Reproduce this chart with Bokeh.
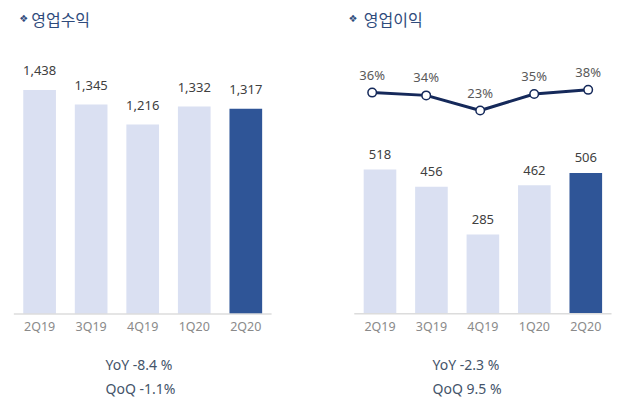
from bokeh.plotting import figure
from bokeh.models import Range1d, ColumnDataSource, Label
from bokeh.layouts import row
from bokeh.embed import file_html
from bokeh.resources import INLINE
from bokeh.core.properties import value

# ---------------- data ----------------
quarters = ["2Q19", "3Q19", "4Q19", "1Q20", "2Q20"]
revenue = [1438, 1345, 1216, 1332, 1317]
op_income = [518, 456, 285, 462, 506]
op_margin = [36, 34, 23, 35, 38]

title_left = "영업수익"
title_right = "영업이익"
rev_yoy = "YoY -8.4 %"
rev_qoq = "QoQ -1.1%"
op_yoy = "YoY  -2.3 %"
op_qoq = "QoQ   9.5 %"

# ---------------- style ----------------
FONT = "Noto Sans"
KFONT = "Noto Sans CJK KR"
LIGHT = "#dae0f2"
DARK = "#2f5597"
NAVY = "#15295a"
TITLE_C = "#2f4b7c"
NOTE_C = "#44546a"
H = 404

n = len(quarters)
idx = list(range(n))
bar_colors = [LIGHT] * (n - 1) + [DARK]


def base_fig(width, xr, yr):
    p = figure(width=width, height=H, x_range=xr, y_range=yr,
               output_backend="svg", toolbar_location=None,
               x_axis_location=None, y_axis_location=None, min_border=0)
    p.grid.visible = False
    p.outline_line_color = None
    return p


def bar_panel(p, values, label_offset):
    src = ColumnDataSource(dict(x=idx, v=values, q=quarters,
                                lbl=[f"{v:,}" for v in values], c=bar_colors))
    p.vbar(x="x", top="v", width=0.634, fill_color="c", line_color=None, source=src)
    p.line(x=[-0.5, n - 0.5], y=[0, 0], line_color="#dcdcdc", line_width=1.5)
    p.text(x="x", y=0, text="q", source=src, y_offset=13,
           text_align="center", text_baseline="middle",
           text_font=value(FONT), text_font_size="12.5px", text_color="#8a8a8a")
    p.text(x="x", y="v", text="lbl", source=src, y_offset=label_offset,
           text_align="center", text_baseline="middle",
           text_font=value(FONT), text_font_size="13px", text_color="#404040")


def titles(p, bx, tx, title, l1, l2, nx):
    p.add_layout(Label(x=bx, y=385.7, x_units="screen", y_units="screen", text="❖",
                       text_font="DejaVu Sans", text_font_size="10px", text_color=TITLE_C,
                       text_align="center", text_baseline="middle"))
    p.add_layout(Label(x=tx, y=385.7, x_units="screen", y_units="screen", text=title,
                       text_font=KFONT, text_font_size="16px", text_color=TITLE_C,
                       text_align="left", text_baseline="middle"))
    for t, y in ((l1, 40), (l2, 16)):
        p.add_layout(Label(x=nx, y=y, x_units="screen", y_units="screen", text=t,
                           text_font=FONT, text_font_size="14px", text_color=NOTE_C,
                           text_align="left", text_baseline="middle"))


# ---------------- left: 영업수익 ----------------
p1 = base_fig(318, Range1d(-0.7585, 5.410), Range1d(-580.9, 2012.2))
bar_panel(p1, revenue, -19)
titles(p1, 23.3, 30.7, title_left, rev_yoy, rev_qoq, 105)

# ---------------- right: 영업이익 ----------------
p2 = base_fig(317, Range1d(-1.195, 4.966), Range1d(-325.8, 1125.3))
bar_panel(p2, op_income, -15)
p2.extra_x_ranges = {"lx": Range1d(-0.994, 4.876)}
p2.extra_y_ranges = {"pct": Range1d(-190.0, 102.75)}
lsrc = ColumnDataSource(dict(x=idx, m=op_margin, lbl=[f"{m}%" for m in op_margin]))
p2.line(x="x", y="m", source=lsrc, x_range_name="lx", y_range_name="pct",
        line_color=NAVY, line_width=3)
p2.scatter(x="x", y="m", source=lsrc, x_range_name="lx", y_range_name="pct",
           size=8.5, fill_color="white", line_color=NAVY, line_width=1.5)
p2.text(x="x", y="m", text="lbl", source=lsrc, x_range_name="lx", y_range_name="pct",
        y_offset=-18, text_align="center", text_baseline="middle",
        text_font=value(FONT), text_font_size="13px", text_color="#595959")
titles(p2, 34.5, 45.3, title_right, op_yoy, op_qoq, 114)

layout = row(p1, p2)
open("out.html", "w").write(file_html(layout, INLINE))
